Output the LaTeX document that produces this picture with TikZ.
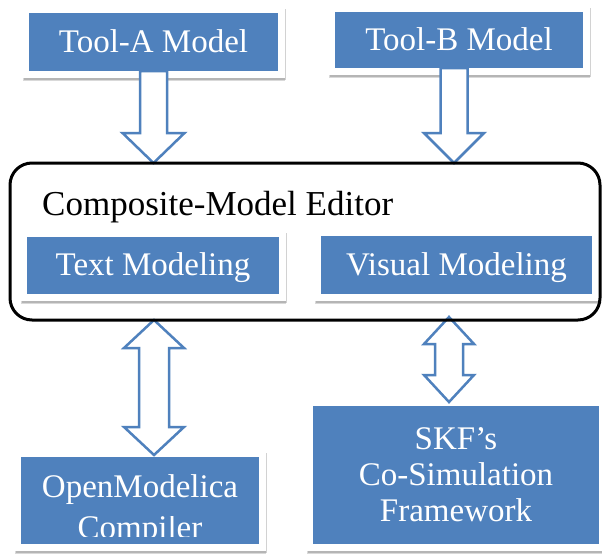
\documentclass[tikz,border=0pt]{standalone}
\usepackage{fontspec}
\setmainfont{Liberation Serif}
\usepackage{trimclip}
\usetikzlibrary{calc,shadows}
\definecolor{accent}{RGB}{79,129,189}
\pgfdeclarelayer{bglayer}
\pgfdeclarelayer{cardlayer}
\pgfdeclarelayer{arrowlayer}
\pgfsetlayers{bglayer,cardlayer,arrowlayer,main}
\newcommand\hollowdown[5]{%
  \draw[blockarrow] let \p1=#1, \p2=#2 in
    ({\x1-#3},\y1) -- ({\x1-#3},{\y2+#5}) -- ({\x1-#4},{\y2+#5}) -- (\x1,\y2)
    -- ({\x1+#4},{\y2+#5}) -- ({\x1+#3},{\y2+#5}) -- ({\x1+#3},\y1) -- cycle;}
\newcommand\hollowdouble[5]{%
  \draw[blockarrow] let \p1=#1, \p2=#2 in
    (\x1,\y1) -- ({\x1+#4},{\y1-#5}) -- ({\x1+#3},{\y1-#5}) -- ({\x1+#3},{\y2+#5})
    -- ({\x1+#4},{\y2+#5}) -- (\x1,\y2) -- ({\x1-#4},{\y2+#5}) -- ({\x1-#3},{\y2+#5})
    -- ({\x1-#3},{\y1-#5}) -- ({\x1-#4},{\y1-#5}) -- cycle;}
\tikzset{
  bluebox/.style={fill=accent, text=white, inner sep=0pt, outer sep=0pt,
    font=\fontsize{33}{36}\selectfont, align=center},
  oneline/.style={text height=23pt, text depth=3pt},
  card/.style={fill=white,
    drop shadow={shadow xshift=0.5pt, shadow yshift=-3.5pt, opacity=0.15, fill=black},
    drop shadow={shadow xshift=1pt, shadow yshift=-2pt, opacity=0.25, fill=black!70}},
  blockarrow/.style={draw=accent, fill=white, line width=2.5pt, line join=miter},
  editorbox/.style={draw=black, line width=3pt, rounded corners=22pt, inner sep=0pt,
    outer sep=0pt},
}
\begin{document}
\begin{tikzpicture}[x=1pt, y=-1pt]
\begin{pgfonlayer}{bglayer}
  \fill[white] (0,0) rectangle (602,554);
\end{pgfonlayer}
\useasboundingbox (0,0) rectangle (602,554);
% editor container
\node[editorbox, minimum width=590pt, minimum height=157pt] (editor) at (305,241.5) {};
\node[anchor=base west, inner sep=0pt, font=\fontsize{35}{40}\selectfont] (title) at (42,215) {Composite-Model Editor};
% blue boxes
\node[bluebox, oneline, minimum width=249pt, minimum height=58pt] (toolA) at (153.5,42) {Tool-A Model};
\node[bluebox, oneline, minimum width=248pt, minimum height=56pt] (toolB) at (459,40) {Tool-B Model};
\node[bluebox, oneline, minimum width=252pt, minimum height=57pt] (textmod) at (153,265.5) {Text Modeling};
\node[bluebox, oneline, minimum width=271pt, minimum height=58pt] (visualmod) at (456.5,265) {Visual Modeling};
\node[bluebox, font=\fontsize{33}{39}\selectfont, minimum width=238pt, minimum height=87pt] (omc) at (140,500.5)
  {\rule{0pt}{32pt}OpenModelica\\\clipbox{0pt 10pt 0pt 0pt}{Compiler}};
\node[bluebox, minimum width=286pt, minimum height=138pt] (skf) at (456,475)
  {SKF’s\\Co-Simulation\\Framework};
% white cards with shadow
\begin{pgfonlayer}{cardlayer}
  \foreach \n in {toolA,toolB,textmod,visualmod,omc,skf}{
    \fill[card] ($(\n.north west)+(-6.5,-6.5)$) rectangle ($(\n.south east)+(6.5,6.5)$);
  }
\end{pgfonlayer}
% hollow block arrows
\begin{pgfonlayer}{arrowlayer}
  \hollowdown{(toolA.south)}{(editor.north)}{13.5pt}{31pt}{30pt}
  \hollowdown{($(toolB.south)+(-5,0)$)}{(editor.north)}{13.5pt}{30pt}{30pt}
  \hollowdouble{($(textmod.south |- editor.south)+(1,0)$)}{($(omc.north)+(0,-2)$)}{15pt}{30pt}{28pt}
  \hollowdouble{($(visualmod.south |- editor.south)+(-7.5,-3)$)}{($(skf.north)+(0,-4)$)}{14pt}{25pt}{27pt}
\end{pgfonlayer}
\end{tikzpicture}
\end{document}
